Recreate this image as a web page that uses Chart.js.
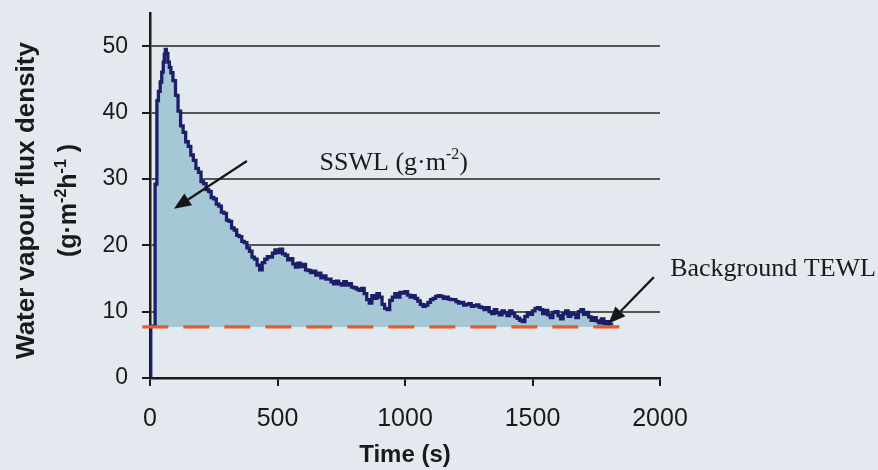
<!DOCTYPE html>
<html>
<head>
<meta charset="utf-8">
<script src="https://cdn.jsdelivr.net/npm/chart.js@4/dist/chart.umd.min.js"></script>
<style>
  html, body { margin: 0; padding: 0; background: #e3e9ef; }
  canvas { display: block; }
</style>
</head>
<body>
<canvas id="chart" width="878" height="470"></canvas>
<script>
// Skin-surface water loss after exposure: measured flux density (g·m-2·h-1) vs time (s)
const timeSec = [
  0, 3, 20, 27, 33, 40, 46, 52, 56, 60, 64, 70, 76, 82, 90,
  100, 110, 120, 130, 140, 150, 160, 170, 180, 190,
  200, 210, 220, 230, 240, 250, 260, 270, 280, 290,
  300, 310, 320, 330, 340, 350, 360, 370, 380, 390,
  400, 410, 420, 430, 440, 450, 460, 470, 480, 490,
  500, 510, 520, 530, 540, 550, 560, 570, 580, 590,
  600, 610, 620, 630, 640, 650, 660, 670, 680, 690,
  700, 710, 720, 730, 740, 750, 760, 770, 780, 790,
  800, 810, 820, 830, 840, 850, 860, 870, 880, 890,
  900, 910, 920, 930, 940, 950, 960, 970, 980, 990,
  1000, 1010, 1020, 1030, 1040, 1050, 1060, 1070, 1080, 1090,
  1100, 1110, 1120, 1130, 1140, 1150, 1160, 1170, 1180, 1190,
  1200, 1210, 1220, 1230, 1240, 1250, 1260, 1270, 1280, 1290,
  1300, 1310, 1320, 1330, 1340, 1350, 1360, 1370, 1380, 1390,
  1400, 1410, 1420, 1430, 1440, 1450, 1460, 1470, 1480, 1490,
  1500, 1510, 1520, 1530, 1540, 1550, 1560, 1570, 1580, 1590,
  1600, 1610, 1620, 1630, 1640, 1650, 1660, 1670, 1680, 1690,
  1700, 1710, 1720, 1730, 1740, 1750, 1760, 1770, 1780, 1790,
  1800, 1810
];

const fluxDensity = [
  0, 7.8, 29.2, 41.8, 43.2, 44.6, 46.1, 47.6, 48.8, 49.5, 48.9, 47.6, 46.8, 46.0, 44.8,
  42.6, 40.2, 38.0, 37.0, 35.6, 34.9, 33.6, 32.8, 31.6, 31.0,
  29.6, 29.3, 28.4, 28.1, 27.2, 27.0, 26.2, 25.9, 25.0, 24.8,
  23.8, 23.6, 22.6, 22.3, 21.5, 21.3, 20.6, 20.4, 19.6, 19.1,
  18.2, 17.9, 17.0, 16.3, 17.4, 17.9, 18.3, 18.2, 18.8, 19.3,
  18.9, 19.4, 18.7, 18.5, 17.8, 18.0, 17.2, 16.7, 17.3, 16.8,
  17.1, 16.3, 16.2, 15.9, 16.1, 15.5, 15.8, 15.1, 15.4, 14.9,
  14.9, 14.5, 14.2, 14.6, 14.2, 14.0, 14.5, 14.0, 14.2, 13.7,
  13.6, 13.4, 13.2, 13.5, 12.7, 11.8, 11.3, 12.4, 12.0, 12.7,
  12.2, 11.1, 10.5, 10.3, 11.7, 12.2, 12.7, 12.2, 12.9, 12.8,
  13.0, 12.5, 12.2, 12.4, 12.0, 11.6, 11.1, 10.8, 11.0, 11.4,
  11.8, 12.0, 12.3, 12.4, 12.3, 12.0, 12.2, 11.9, 11.8, 11.8,
  11.5, 11.3, 11.4, 11.0, 11.1, 11.2, 10.8, 10.9, 11.0, 10.7,
  10.6, 10.3, 10.6, 10.0, 9.7, 10.3, 9.8, 9.5, 10.1, 9.8,
  9.4, 10.1, 9.7, 9.3, 9.0, 8.7, 8.5, 9.3, 9.8, 9.6,
  10.1, 10.5, 10.6, 10.3, 9.7, 10.2, 9.5, 9.1, 9.9, 10.0,
  9.4, 8.9, 9.7, 10.1, 9.3, 9.8, 9.6, 9.1, 10.0, 10.3,
  9.6, 9.9, 9.2, 8.7, 9.1, 8.6, 8.3, 8.9, 8.2, 8.5,
  8.1, 8.0
];

// Baseline transepidermal water loss, drawn as a dashed reference line
const backgroundTewl = 7.7;
const tewlTimeSpan = [-30, 1880];

const xTickValues = [0, 500, 1000, 1500, 2000];
const yTickValues = [0, 10, 20, 30, 40, 50];

const SANS = "'Liberation Sans', Arial, sans-serif";
const SERIF = "'Liberation Serif', 'Times New Roman', serif";

// Draw a run of text pieces, some raised as superscripts, starting at x on baseline y
function drawRich(ctx, runs, x, y, size, family, weight, align) {
  const supSize = Math.round(size * 0.62);
  let total = 0;
  runs.forEach(r => {
    ctx.font = `${weight} ${r.sup ? supSize : size}px ${family}`;
    r.w = ctx.measureText(r.text).width;
    total += r.w;
  });
  let cx = align === 'center' ? x - total / 2 : x;
  ctx.textAlign = 'left';
  ctx.textBaseline = 'alphabetic';
  runs.forEach(r => {
    ctx.font = `${weight} ${r.sup ? supSize : size}px ${family}`;
    ctx.fillText(r.text, cx, r.sup ? y - size * 0.42 : y);
    cx += r.w;
  });
}

function drawArrow(ctx, x1, y1, x2, y2) {
  const ang = Math.atan2(y2 - y1, x2 - x1);
  const headLen = 17, headHalf = 7;
  const bx = x2 - headLen * Math.cos(ang), by = y2 - headLen * Math.sin(ang);
  ctx.save();
  ctx.strokeStyle = '#161616';
  ctx.fillStyle = '#161616';
  ctx.lineWidth = 2.2;
  ctx.beginPath();
  ctx.moveTo(x1, y1);
  ctx.lineTo(bx, by);
  ctx.stroke();
  ctx.beginPath();
  ctx.moveTo(x2, y2);
  ctx.lineTo(bx + headHalf * Math.sin(ang), by - headHalf * Math.cos(ang));
  ctx.lineTo(bx - headHalf * Math.sin(ang), by + headHalf * Math.cos(ang));
  ctx.closePath();
  ctx.fill();
  ctx.restore();
}

const pageBackground = {
  id: 'pageBackground',
  beforeDraw(chart) {
    const { ctx, width, height } = chart;
    ctx.save();
    ctx.fillStyle = '#e3e9ef';
    ctx.fillRect(0, 0, width, height);
    ctx.restore();
  }
};

// Two-line vertical axis title with superscripted units
const yAxisTitle = {
  id: 'yAxisTitle',
  afterDraw(chart) {
    const { ctx, chartArea } = chart;
    const cy = (chartArea.top + chartArea.bottom) / 2 + 5;
    ctx.save();
    ctx.fillStyle = '#1a1a1a';
    ctx.translate(0, cy);
    ctx.rotate(-Math.PI / 2);
    drawRich(ctx, [{ text: 'Water vapour flux density' }], 0, 34, 26, SANS, 'bold', 'center');
    drawRich(ctx, [
      { text: '(g·m' }, { text: '-2', sup: true }, { text: 'h' }, { text: '-1', sup: true }, { text: ' )' }
    ], 0, 76, 25, SANS, 'bold', 'center');
    ctx.restore();
  }
};

// Callout labels with arrows pointing at the curve and at the baseline
const callouts = {
  id: 'callouts',
  afterDraw(chart) {
    const { ctx } = chart;
    const { x, y } = chart.scales;
    ctx.save();
    ctx.fillStyle = '#1a1a1a';
    drawRich(ctx, [{ text: 'SSWL (g·m' }, { text: '-2', sup: true }, { text: ')' }],
      x.getPixelForValue(665), y.getPixelForValue(31.4), 26, SERIF, 'normal', 'left');
    drawRich(ctx, [{ text: 'Background TEWL' }],
      x.getPixelForValue(2040), y.getPixelForValue(15.4), 26, SERIF, 'normal', 'left');
    drawArrow(ctx, x.getPixelForValue(380), y.getPixelForValue(32.7),
      x.getPixelForValue(94), y.getPixelForValue(25.5));
    drawArrow(ctx, x.getPixelForValue(1976), y.getPixelForValue(15.2),
      x.getPixelForValue(1798), y.getPixelForValue(8.2));
    ctx.restore();
  }
};

new Chart(document.getElementById('chart'), {
  type: 'line',
  data: {
    datasets: [
      {
        label: 'SSWL',
        data: timeSec.map((t, i) => ({ x: t, y: fluxDensity[i] })),
        borderColor: '#1c1f68',
        borderWidth: 3.3,
        backgroundColor: '#a6c7d5',
        fill: { value: backgroundTewl },
        stepped: true,
        pointRadius: 0,
        order: 2
      },
      {
        label: 'Background TEWL',
        data: tewlTimeSpan.map(t => ({ x: t, y: backgroundTewl })),
        borderColor: '#e85a2a',
        borderWidth: 3.2,
        borderDash: [26, 15],
        fill: false,
        pointRadius: 0,
        clip: false,
        order: 1
      }
    ]
  },
  options: {
    responsive: false,
    animation: false,
    events: [],
    layout: { padding: { top: 13, right: 218, left: 0, bottom: 0 } },
    plugins: {
      legend: { display: false },
      tooltip: { enabled: false }
    },
    scales: {
      x: {
        type: 'linear',
        min: 0,
        max: 2000,
        afterBuildTicks: s => { s.ticks = xTickValues.map(v => ({ value: v })); },
        afterFit: s => { s.height = 92; s.paddingLeft = 0; s.paddingRight = 0; },
        ticks: {
          color: '#1a1a1a',
          font: { family: SANS, size: 25 },
          padding: 18,
          maxRotation: 0,
          callback: v => String(v)
        },
        grid: {
          drawOnChartArea: false,
          drawTicks: true,
          tickLength: 8,
          tickColor: '#1a1a1a',
          tickWidth: 2,
          lineWidth: 2
        },
        border: { display: true, color: '#1a1a1a', width: 2.5 },
        title: {
          display: true,
          text: 'Time (s)',
          color: '#1a1a1a',
          font: { family: SANS, size: 24, weight: 'bold' },
          padding: { top: 0, bottom: 0 }
        }
      },
      y: {
        type: 'linear',
        min: 0,
        max: 55,
        afterBuildTicks: s => { s.ticks = yTickValues.map(v => ({ value: v })); },
        afterFit: s => { s.width = 150; s.paddingTop = 0; s.paddingBottom = 0; },
        ticks: {
          color: '#1a1a1a',
          font: { family: SANS, size: 23 },
          padding: 14,
          callback: v => String(v)
        },
        grid: {
          color: '#555555',
          lineWidth: 2,
          drawTicks: true,
          tickLength: 8,
          tickColor: '#1a1a1a',
          tickWidth: 2
        },
        border: { display: true, color: '#1a1a1a', width: 2.5 }
      }
    }
  },
  plugins: [pageBackground, yAxisTitle, callouts]
});
</script>
</body>
</html>
